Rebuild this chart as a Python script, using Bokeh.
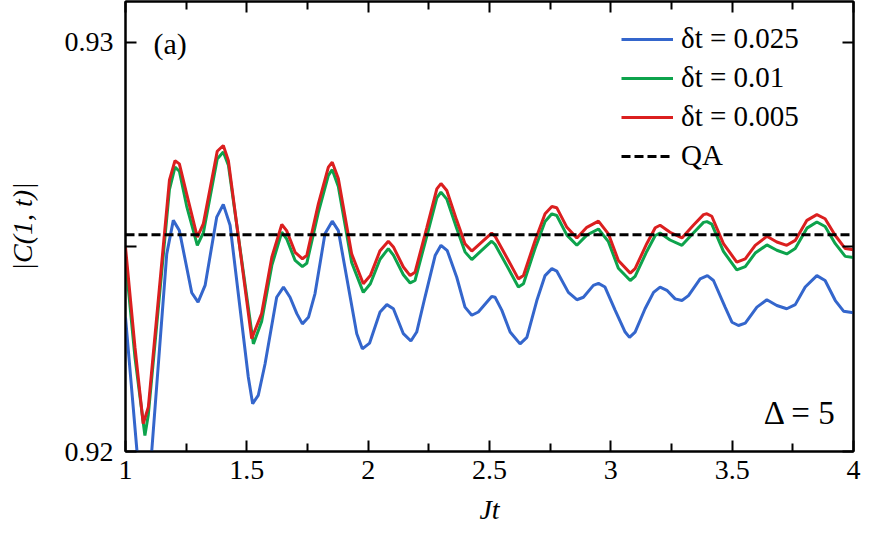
from bokeh.plotting import figure
from bokeh.models import Range1d, LinearAxis, FixedTicker, Legend, LegendItem, Label
from bokeh.embed import file_html
from bokeh.resources import INLINE

# ---- data ----
jt_red = [1.000, 1.039, 1.073, 1.094, 1.181, 1.204, 1.222, 1.252, 1.296, 1.321, 1.378, 1.403, 1.424,
          1.520, 1.561, 1.603, 1.644, 1.664, 1.699, 1.729, 1.747, 1.795, 1.836, 1.852, 1.877, 1.932,
          1.980, 2.009, 2.049, 2.083, 2.104, 2.145, 2.173, 2.193, 2.242, 2.283, 2.300, 2.324, 2.365,
          2.399, 2.427, 2.461, 2.509, 2.523, 2.578, 2.619, 2.640, 2.688, 2.729, 2.757, 2.777, 2.819,
          2.860, 2.901, 2.949, 2.990, 3.031, 3.080, 3.100, 3.148, 3.183, 3.203, 3.244, 3.293, 3.340,
          3.382, 3.396, 3.416, 3.464, 3.519, 3.554, 3.595, 3.643, 3.684, 3.725, 3.760, 3.808, 3.849,
          3.883, 3.925, 3.966, 4.000]
c_red = [0.92499, 0.92255, 0.92068, 0.92108, 0.92663, 0.92711, 0.92703, 0.92630, 0.92524, 0.92557,
         0.92734, 0.92748, 0.92711, 0.92276, 0.92337, 0.92475, 0.92555, 0.92540, 0.92487, 0.92471,
         0.92479, 0.92606, 0.92695, 0.92707, 0.92667, 0.92483, 0.92410, 0.92430, 0.92491, 0.92514,
         0.92500, 0.92451, 0.92430, 0.92438, 0.92548, 0.92642, 0.92655, 0.92638, 0.92565, 0.92508,
         0.92490, 0.92508, 0.92534, 0.92526, 0.92467, 0.92422, 0.92430, 0.92516, 0.92581, 0.92599,
         0.92596, 0.92548, 0.92522, 0.92548, 0.92563, 0.92532, 0.92467, 0.92436, 0.92447, 0.92508,
         0.92547, 0.92553, 0.92536, 0.92522, 0.92553, 0.92579, 0.92581, 0.92575, 0.92508, 0.92463,
         0.92471, 0.92504, 0.92526, 0.92512, 0.92504, 0.92516, 0.92565, 0.92579, 0.92569, 0.92528,
         0.92496, 0.92493]

jt_green = [1.000, 1.039, 1.080, 1.094, 1.181, 1.204, 1.222, 1.252, 1.296, 1.321, 1.378, 1.403, 1.424,
            1.527, 1.561, 1.603, 1.644, 1.664, 1.699, 1.729, 1.747, 1.795, 1.836, 1.852, 1.877, 1.932,
            1.980, 2.009, 2.049, 2.083, 2.104, 2.145, 2.173, 2.193, 2.242, 2.283, 2.300, 2.324, 2.365,
            2.399, 2.427, 2.461, 2.509, 2.523, 2.578, 2.619, 2.640, 2.688, 2.729, 2.757, 2.777, 2.819,
            2.860, 2.901, 2.949, 2.990, 3.031, 3.080, 3.100, 3.148, 3.183, 3.203, 3.244, 3.293, 3.340,
            3.382, 3.396, 3.416, 3.464, 3.519, 3.554, 3.595, 3.643, 3.684, 3.725, 3.760, 3.808, 3.849,
            3.883, 3.925, 3.966, 4.000]
c_green = [0.92470, 0.92230, 0.92039, 0.92090, 0.92640, 0.92695, 0.92685, 0.92600, 0.92504, 0.92535,
           0.92715, 0.92732, 0.92700, 0.92263, 0.92318, 0.92455, 0.92536, 0.92520, 0.92467, 0.92452,
           0.92460, 0.92585, 0.92675, 0.92689, 0.92648, 0.92462, 0.92389, 0.92410, 0.92470, 0.92496,
           0.92480, 0.92432, 0.92412, 0.92418, 0.92527, 0.92620, 0.92634, 0.92617, 0.92545, 0.92488,
           0.92469, 0.92488, 0.92514, 0.92506, 0.92447, 0.92402, 0.92410, 0.92497, 0.92562, 0.92581,
           0.92577, 0.92529, 0.92504, 0.92529, 0.92544, 0.92513, 0.92448, 0.92418, 0.92428, 0.92489,
           0.92528, 0.92534, 0.92517, 0.92504, 0.92534, 0.92560, 0.92562, 0.92556, 0.92489, 0.92444,
           0.92452, 0.92485, 0.92505, 0.92492, 0.92483, 0.92496, 0.92546, 0.92561, 0.92550, 0.92508,
           0.92477, 0.92474]

jt_blue = [1.000, 1.072, 1.108, 1.170, 1.197, 1.222, 1.273, 1.299, 1.328, 1.376, 1.403, 1.431, 1.506,
           1.524, 1.547, 1.575, 1.623, 1.651, 1.678, 1.706, 1.729, 1.754, 1.781, 1.822, 1.852, 1.877,
           1.953, 1.976, 2.006, 2.049, 2.077, 2.104, 2.145, 2.176, 2.200, 2.234, 2.276, 2.300, 2.326,
           2.365, 2.399, 2.427, 2.454, 2.509, 2.523, 2.551, 2.585, 2.626, 2.654, 2.695, 2.729, 2.757,
           2.777, 2.825, 2.860, 2.887, 2.928, 2.949, 2.976, 3.018, 3.059, 3.077, 3.100, 3.141, 3.176,
           3.203, 3.231, 3.265, 3.293, 3.320, 3.368, 3.398, 3.423, 3.471, 3.499, 3.526, 3.554, 3.602,
           3.643, 3.684, 3.725, 3.760, 3.801, 3.849, 3.883, 3.925, 3.959, 4.000]
c_blue = [0.92328, 0.91830, 0.92000, 0.92483, 0.92565, 0.92540, 0.92388, 0.92365, 0.92406, 0.92573,
          0.92604, 0.92553, 0.92182, 0.92117, 0.92137, 0.92214, 0.92377, 0.92402, 0.92377, 0.92337,
          0.92312, 0.92328, 0.92386, 0.92532, 0.92563, 0.92540, 0.92288, 0.92251, 0.92265, 0.92341,
          0.92359, 0.92349, 0.92288, 0.92270, 0.92292, 0.92377, 0.92479, 0.92504, 0.92491, 0.92426,
          0.92353, 0.92333, 0.92341, 0.92379, 0.92377, 0.92345, 0.92292, 0.92263, 0.92279, 0.92369,
          0.92430, 0.92447, 0.92441, 0.92389, 0.92371, 0.92377, 0.92406, 0.92411, 0.92402, 0.92345,
          0.92292, 0.92279, 0.92292, 0.92349, 0.92389, 0.92402, 0.92394, 0.92373, 0.92369, 0.92381,
          0.92422, 0.92430, 0.92418, 0.92353, 0.92316, 0.92308, 0.92314, 0.92353, 0.92371, 0.92357,
          0.92349, 0.92359, 0.92402, 0.92430, 0.92418, 0.92369, 0.92343, 0.92339]

qa_value = 0.9253

series_labels = ["δt = 0.025", "δt = 0.01", "δt = 0.005"]
qa_label = "QA"

x_ticks = [1, 1.5, 2, 2.5, 3, 3.5, 4]
x_tick_labels = ["1", "1.5", "2", "2.5", "3", "3.5", "4"]
x_minor_ticks = [1.25, 1.75, 2.25, 2.75, 3.25, 3.75]
y_ticks = [0.92, 0.925, 0.93]
y_tick_labels = ["0.92", "", "0.93"]

# ---- styling ----
FONT = "Times New Roman"
FS = "28px"
BLUE = "#3466cc"
GREEN = "#0da34c"
RED = "#db1f1f"

p = figure(width=871, height=534, output_backend="svg", toolbar_location=None,
           x_range=Range1d(1, 4), y_range=Range1d(0.92, 0.931),
           x_axis_location=None, y_axis_location=None,
           min_border_left=125, min_border_right=18, min_border_top=1, min_border_bottom=83)
p.outline_line_color = "black"
p.outline_line_width = 2
p.background_fill_color = "white"
p.border_fill_color = "white"
p.grid.grid_line_color = None
p.grid.visible = False


def style_axis(ax, ticks, minor, labels, show):
    ax.ticker = FixedTicker(ticks=ticks, minor_ticks=minor)
    ax.axis_line_color = "black"
    ax.axis_line_width = 2
    ax.major_tick_in = 11
    ax.major_tick_out = 0
    ax.major_tick_line_width = 2
    ax.major_tick_line_color = "black"
    ax.minor_tick_in = 8
    ax.minor_tick_out = 0
    ax.minor_tick_line_width = 2
    ax.minor_tick_line_color = "black"
    ax.major_label_text_font = FONT
    if show:
        ax.major_label_overrides = {t: l for t, l in zip(ticks, labels)}
        ax.major_label_text_font_size = FS
        ax.major_label_text_color = "black"
    else:
        ax.major_label_overrides = {t: "" for t in ticks}
        ax.major_label_text_font_size = "0px"
        ax.major_label_standoff = 0


xb = LinearAxis()
style_axis(xb, x_ticks, x_minor_ticks, x_tick_labels, True)
xb.major_label_standoff = 9
xb.axis_label = "Jt"
xb.axis_label_text_font = FONT
xb.axis_label_text_font_size = FS
xb.axis_label_text_font_style = "italic"
xb.axis_label_text_color = "black"
xb.axis_label_standoff = 12
p.add_layout(xb, "below")

xt = LinearAxis()
style_axis(xt, x_ticks, x_minor_ticks, x_tick_labels, False)
p.add_layout(xt, "above")

yl = LinearAxis()
style_axis(yl, y_ticks, [], y_tick_labels, True)
yl.major_label_standoff = 12
yl.axis_label = "|C(1, t)|"
yl.axis_label_text_font = FONT
yl.axis_label_text_font_size = FS
yl.axis_label_text_font_style = "italic"
yl.axis_label_text_color = "black"
yl.axis_label_standoff = 24
p.add_layout(yl, "left")

yr = LinearAxis()
style_axis(yr, y_ticks, [], y_tick_labels, False)
p.add_layout(yr, "right")

rb = p.line(jt_blue, c_blue, line_color=BLUE, line_width=3)
rg = p.line(jt_green, c_green, line_color=GREEN, line_width=3)
rr = p.line(jt_red, c_red, line_color=RED, line_width=3)
rq = p.line([1, 4], [qa_value, qa_value], line_color="black", line_width=3, line_dash="9 4")

legend = Legend(items=[LegendItem(label=series_labels[0], renderers=[rb]),
                       LegendItem(label=series_labels[1], renderers=[rg]),
                       LegendItem(label=series_labels[2], renderers=[rr]),
                       LegendItem(label=qa_label, renderers=[rq])],
                location=(496, 279))
legend.glyph_width = 52
legend.glyph_height = 28
legend.label_height = 28
legend.label_standoff = 8
legend.spacing = 6
legend.padding = 0
legend.margin = 0
legend.border_line_alpha = 0
legend.background_fill_alpha = 0
legend.label_text_font = FONT
legend.label_text_font_size = "29px"
legend.label_text_color = "black"
legend.label_text_baseline = "middle"
p.add_layout(legend)

# panel annotations (screen units relative to the plot frame)
p.add_layout(Label(x=28, y=408, x_units="screen", y_units="screen", text="(a)",
                   text_font=FONT, text_font_size="30px", text_color="black",
                   text_baseline="middle", text_align="left"))
p.add_layout(Label(x=711, y=39, x_units="screen", y_units="screen", text="Δ = 5",
                   text_font=FONT, text_font_size="33px", text_color="black",
                   text_baseline="middle", text_align="right"))

open("out.html", "w").write(file_html(p, INLINE))
